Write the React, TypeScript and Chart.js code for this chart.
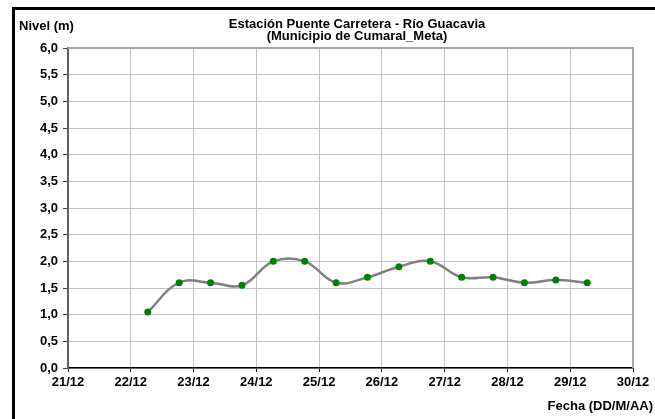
import React, { useEffect, useRef } from 'react';
import { Chart, registerables } from 'chart.js';

Chart.register(...registerables);

// ---- Data ----
const TIMES = [
  '22/12 06:30', '22/12 18:30',
  '23/12 06:30', '23/12 18:30',
  '24/12 06:30', '24/12 18:30',
  '25/12 06:30', '25/12 18:30',
  '26/12 06:30', '26/12 18:30',
  '27/12 06:30', '27/12 18:30',
  '28/12 06:30', '28/12 18:30',
  '29/12 06:30',
];
const NIVEL = [1.05, 1.6, 1.6, 1.55, 2.0, 2.0, 1.6, 1.7, 1.9, 2.0, 1.7, 1.7, 1.6, 1.65, 1.6];

const X_FIRST_DAY = 21;
const X_LAST_DAY = 30;
const MONTH = 12;
const Y_MIN = 0;
const Y_MAX = 6;
const Y_STEP = 0.5;

const TITLE_LINES = ['Estación Puente Carretera - Río Guacavia', '(Municipio de Cumaral_Meta)'];
const Y_AXIS_TITLE = 'Nivel (m)';
const X_AXIS_TITLE = 'Fecha (DD/M/AA)';

const FONT_FAMILY = '"Liberation Sans", Arial, sans-serif';

function toDay(s: string): number {
  const [d, t] = s.split(' ');
  const day = Number(d.split('/')[0]);
  const [h, m] = t.split(':').map(Number);
  return day + (h + m / 60) / 24;
}

const W = 655;
const H = 419;

const decorPlugin = {
  id: 'decor',
  beforeDraw(chart: any) {
    const ctx = chart.ctx;
    ctx.save();
    ctx.fillStyle = '#ffffff';
    ctx.fillRect(0, 0, chart.width, chart.height);
    ctx.restore();
  },
  beforeDatasetsDraw(chart: any) {
    const { ctx, chartArea } = chart;
    ctx.save();
    ctx.strokeStyle = '#a6a6a6';
    ctx.lineWidth = 2;
    ctx.beginPath();
    ctx.moveTo(chartArea.left, chartArea.top);
    ctx.lineTo(chartArea.right, chartArea.top);
    ctx.lineTo(chartArea.right, chartArea.bottom);
    ctx.stroke();
    ctx.restore();
  },
  afterDraw(chart: any) {
    const ctx = chart.ctx;
    ctx.save();
    // outer frame
    ctx.strokeStyle = '#000000';
    ctx.lineWidth = 3;
    ctx.strokeRect(13.5, 8.5, W + 10, H + 10);
    // texts
    ctx.fillStyle = '#000000';
    ctx.font = `bold 13px ${FONT_FAMILY}`;
    ctx.textBaseline = 'alphabetic';
    ctx.textAlign = 'center';
    ctx.fillText(TITLE_LINES[0], 357, 28);
    ctx.fillText(TITLE_LINES[1], 357, 40);
    ctx.textAlign = 'left';
    ctx.fillText(Y_AXIS_TITLE, 19, 29.5);
    ctx.textAlign = 'right';
    ctx.fillText(X_AXIS_TITLE, 653, 410);
    ctx.restore();
  },
};

export default function App() {
  const ref = useRef<HTMLCanvasElement | null>(null);

  useEffect(() => {
    if (!ref.current) return;
    const points = TIMES.map((t, i) => ({ x: toDay(t), y: NIVEL[i] }));
    const chart = new Chart(ref.current, {
      type: 'line',
      data: {
        datasets: [
          {
            data: points,
            borderColor: '#808080',
            borderWidth: 2.5,
            tension: 0.4,
            pointRadius: 3.5,
            pointBackgroundColor: '#008000',
            pointBorderColor: '#008000',
            pointBorderWidth: 0,
            fill: false,
          },
        ],
      },
      options: {
        responsive: false,
        animation: false,
        devicePixelRatio: 1,
        layout: { padding: { top: 48, right: 22, left: 0, bottom: 0 } },
        plugins: {
          legend: { display: false },
          tooltip: { enabled: false },
          title: { display: false },
        },
        scales: {
          x: {
            type: 'linear',
            min: X_FIRST_DAY,
            max: X_LAST_DAY,
            afterFit: (scale: any) => {
              scale.height = 51;
            },
            ticks: {
              stepSize: 1,
              autoSkip: false,
              maxRotation: 0,
              padding: 3,
              color: '#000000',
              font: { family: FONT_FAMILY, size: 13, weight: 'bold' },
              callback: (v: any) => `${v}/${MONTH}`,
            },
            grid: {
              color: '#c4c4c4',
              lineWidth: 1,
              tickLength: 4,
              tickColor: '#000000',
            },
            border: { color: '#000000', width: 1.5 },
          },
          y: {
            min: Y_MIN,
            max: Y_MAX,
            afterFit: (scale: any) => {
              scale.width = 68;
            },
            ticks: {
              stepSize: Y_STEP,
              padding: 5,
              color: '#000000',
              font: { family: FONT_FAMILY, size: 13, weight: 'bold' },
              callback: (v: any) => Number(v).toFixed(1).replace('.', ','),
            },
            grid: {
              color: '#c4c4c4',
              lineWidth: 1,
              tickLength: 5,
              tickColor: '#404040',
            },
            border: { color: '#606060', width: 2 },
          },
        },
      },
      plugins: [decorPlugin],
    });
    return () => chart.destroy();
  }, []);

  return (
    <div style={{ position: 'fixed', left: 0, top: 0, width: W, height: H, background: '#fff' }}>
      <canvas ref={ref} width={W} height={H} style={{ width: W, height: H, display: 'block' }} />
    </div>
  );
}
